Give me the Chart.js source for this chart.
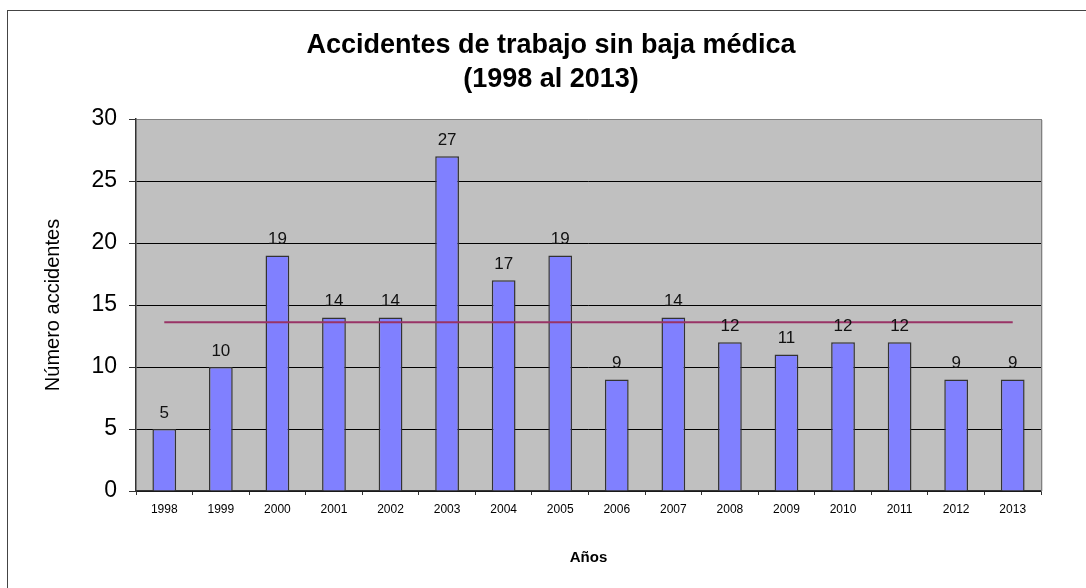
<!DOCTYPE html>
<html>
<head>
<meta charset="utf-8">
<script src="https://cdn.jsdelivr.net/npm/chart.js@4.4.0/dist/chart.umd.min.js"></script>
<style>
  body { margin: 0; background: #fff; overflow: hidden; }
  #frame { position: absolute; left: 7px; top: 10px; width: 1200px; height: 700px; border: 1px solid #444; }
  #chart { position: absolute; left: 0; top: 0; }
</style>
</head>
<body>
<div id="frame"></div>
<canvas id="chart" width="1086" height="588"></canvas>
<script>
const years = ['1998', '1999', '2000', '2001', '2002', '2003', '2004', '2005',
               '2006', '2007', '2008', '2009', '2010', '2011', '2012', '2013'];
const accidents = [5, 10, 19, 14, 14, 27, 17, 19, 9, 14, 12, 11, 12, 12, 9, 9];
const average = [13.6, 13.6, 13.6, 13.6, 13.6, 13.6, 13.6, 13.6,
                 13.6, 13.6, 13.6, 13.6, 13.6, 13.6, 13.6, 13.6];
const yTicks = [0, 5, 10, 15, 20, 25, 30];

const FONT = '"Liberation Sans", Arial, sans-serif';

// grey plot area, right border, title and value labels
const decor = {
    id: 'decor',
    beforeDraw(chart) {
        const { ctx, chartArea: a } = chart;
        ctx.save();
        ctx.fillStyle = '#C0C0C0';
        ctx.fillRect(a.left, a.top, a.right - a.left, a.bottom - a.top);
        ctx.restore();
    },
    beforeDatasetsDraw(chart) {
        const { ctx, chartArea: a } = chart;
        ctx.save();
        ctx.strokeStyle = '#808080';
        ctx.lineWidth = 1;
        ctx.beginPath();
        ctx.moveTo(a.right + 0.5, a.top);
        ctx.lineTo(a.right + 0.5, a.bottom);
        ctx.stroke();
        ctx.strokeStyle = '#d8d8d8';
        ctx.beginPath();
        ctx.moveTo(a.right + 1.5, a.top + 1);
        ctx.lineTo(a.right + 1.5, a.bottom);
        ctx.stroke();
        ctx.restore();
    },
    afterDatasetsDraw(chart) {
        const { ctx } = chart;
        const meta = chart.getDatasetMeta(1);
        ctx.save();
        ctx.fillStyle = '#111';
        ctx.font = '17px ' + FONT;
        ctx.textAlign = 'center';
        ctx.textBaseline = 'middle';
        meta.data.forEach((bar, i) => {
            ctx.fillText(String(accidents[i]), bar.x, bar.y - 16);
        });
        ctx.restore();
    },
    afterDraw(chart) {
        const { ctx } = chart;
        ctx.save();
        ctx.fillStyle = '#000';
        ctx.font = 'bold 27px ' + FONT;
        ctx.textAlign = 'center';
        ctx.textBaseline = 'alphabetic';
        ctx.fillText('Accidentes de trabajo sin baja médica', 551, 53);
        ctx.fillText('(1998 al 2013)', 551, 87);
        ctx.restore();
    }
};

new Chart(document.getElementById('chart').getContext('2d'), {
    data: {
        labels: years,
        datasets: [{
            type: 'line',
            label: 'Media',
            data: average,
            borderColor: '#993366',
            borderWidth: 2,
            pointRadius: 0,
            fill: false,
            order: 1
        }, {
            type: 'bar',
            label: 'Número accidentes',
            data: accidents,
            backgroundColor: '#8080FF',
            borderColor: '#333',
            borderWidth: 1.5,
            barPercentage: 0.42,
            categoryPercentage: 1,
            order: 2
        }]
    },
    options: {
        responsive: false,
        animation: false,
        layout: { padding: { left: 8, right: 45, top: 119, bottom: 0 } },
        plugins: {
            legend: { display: false },
            title: { display: false },
            tooltip: { enabled: false }
        },
        scales: {
            x: {
                offset: true,
                grid: {
                    offset: true,
                    drawOnChartArea: false,
                    tickLength: 4,
                    tickColor: '#333'
                },
                border: { color: '#333', width: 1.5 },
                ticks: {
                    color: '#000',
                    padding: 7,
                    maxRotation: 0,
                    font: { family: FONT, size: 12 }
                },
                title: {
                    display: true,
                    text: 'Años',
                    color: '#000',
                    padding: { top: 0, bottom: 21 },
                    font: { family: FONT, size: 15, weight: 'bold' }
                },
                afterFit(scale) { scale.height = 97; }
            },
            y: {
                min: 0,
                max: 30,
                afterBuildTicks(scale) { scale.ticks = yTicks.map(v => ({ value: v })); },
                grid: {
                    color: c => (c.tick && c.tick.value === 30 ? '#808080' : '#000'),
                    tickColor: '#333',
                    tickLength: 7
                },
                border: { color: '#333', width: 1.5 },
                ticks: {
                    color: '#000',
                    padding: 12,
                    font: { family: FONT, size: 23 }
                },
                title: {
                    display: true,
                    text: 'Número accidentes',
                    color: '#000',
                    padding: { top: 33, bottom: 0 },
                    font: { family: FONT, size: 20 }
                },
                afterFit(scale) { scale.width = 128; }
            }
        }
    },
    plugins: [decor]
});
</script>
</body>
</html>
